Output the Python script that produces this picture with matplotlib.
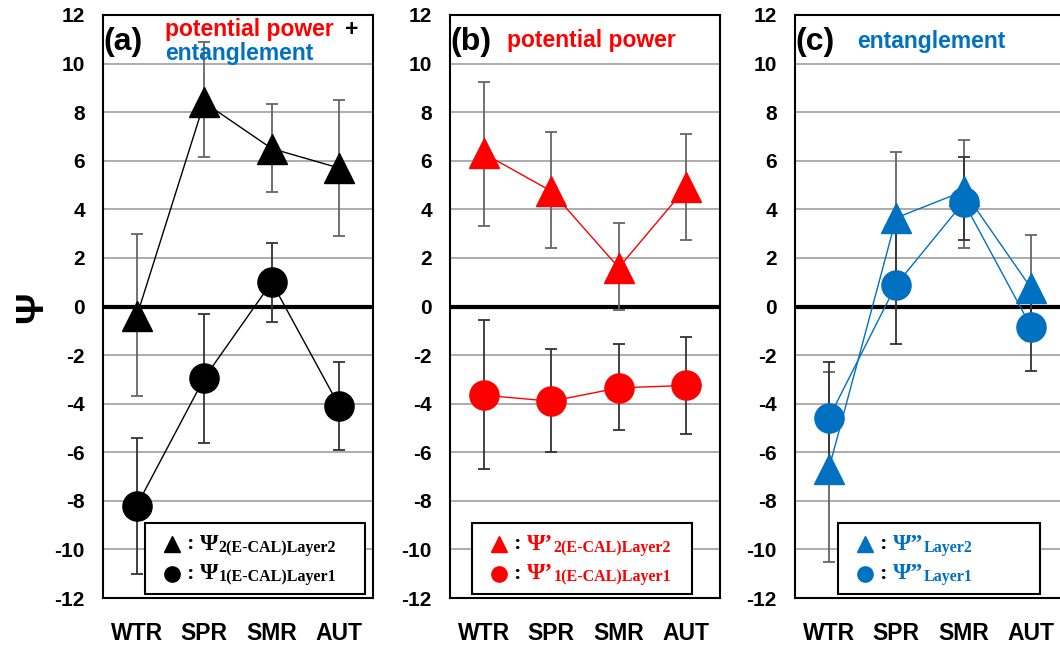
import matplotlib
matplotlib.use("Agg")
import matplotlib.pyplot as plt
from matplotlib.patches import Rectangle
import numpy as np

plt.rcParams['font.family'] = ['Liberation Sans', 'DejaVu Sans']
plt.rcParams['axes.unicode_minus'] = False

seasons = ["WTR", "SPR", "SMR", "AUT"]

# (a) potential power + entanglement
a_l2 = [-0.4, 8.4, 6.5, 5.7]
a_l2_hi = [3.0, 10.9, 8.35, 8.5]
a_l2_lo = [-3.7, 6.15, 4.7, 2.9]
a_l1 = [-8.2, -2.95, 1.0, -4.1]
a_l1_hi = [-5.4, -0.3, 2.6, -2.3]
a_l1_lo = [-11.0, -5.6, -0.65, -5.9]

# (b) potential power
b_l2 = [6.3, 4.75, 1.6, 4.9]
b_l2_hi = [9.25, 7.2, 3.45, 7.1]
b_l2_lo = [3.3, 2.4, -0.15, 2.75]
b_l1 = [-3.65, -3.9, -3.35, -3.25]
b_l1_hi = [-0.55, -1.75, -1.55, -1.25]
b_l1_lo = [-6.7, -6.0, -5.1, -5.25]

# (c) entanglement
c_l2 = [-6.7, 3.65, 4.75, 0.75]
c_l2_hi = [-2.7, 6.35, 6.85, 2.95]
c_l2_lo = [-10.5, 1.0, 2.4, -1.4]
c_l1 = [-4.6, 0.9, 4.3, -0.85]
c_l1_hi = [-2.3, 3.3, 6.15, 0.9]
c_l1_lo = [-6.9, -1.55, 2.75, -2.65]

BLACK, RED, BLUE = "#000000", "#FF0000", "#0070C0"

fig = plt.figure(figsize=(10.6, 6.48), dpi=100)
W, H = 1060, 648
lefts = [103, 450, 795]
axes = [fig.add_axes([l / W, 50 / H, 270 / W, 583 / H]) for l in lefts]

x = np.arange(1, 5)


def draw_panel(ax, l2, l2_hi, l2_lo, l1, l1_hi, l1_lo, color):
    ax.set_xlim(0.5, 4.5)
    ax.set_ylim(-12, 12)
    ax.set_yticks(range(-12, 13, 2))
    ax.set_xticks(x)
    ax.set_xticklabels(seasons)
    ax.tick_params(axis="both", length=0, labelsize=15)
    ax.tick_params(axis="y", pad=13)
    ax.tick_params(axis="x", pad=17, labelsize=16.5)
    for lab in ax.get_xticklabels() + ax.get_yticklabels():
        lab.set_fontweight("bold")
    for sp in ax.spines.values():
        sp.set_linewidth(1.5)
    ax.grid(axis="y", color="#A6A6A6", lw=1.3, zorder=0)
    ax.set_axisbelow(True)
    ax.axhline(0, color="black", lw=3, zorder=2)

    for vals, hi, lo, ecol in [(l2, l2_hi, l2_lo, "#666666"), (l1, l1_hi, l1_lo, "#333333")]:
        v = np.array(vals)
        yerr = [v - np.array(lo), np.array(hi) - v]
        ax.errorbar(x, v, yerr=yerr, fmt="none", ecolor=ecol, elinewidth=1.3,
                    capsize=4.5, capthick=1.3, zorder=3)
    ax.plot(x, l2, color=color, lw=1, marker="^", ms=22, mec=color, zorder=4)
    ax.plot(x, l1, color=color, lw=1, marker="o", ms=21, mec=color, zorder=4)


def draw_key(ax, x0, x1, color, psi, subs):
    ax.add_patch(Rectangle((x0, 0.007), x1 - x0, 0.122, transform=ax.transAxes,
                           fill=True, fc="white", ec="black", lw=1.5, zorder=6))
    for row, (mk, sub) in enumerate(zip(["^", "o"], subs)):
        yy = 0.092 - row * 0.05
        ax.plot([x0 + 0.1], [yy], transform=ax.transAxes, marker=mk, ms=11,
                color=color, zorder=7, clip_on=False)
        t = ax.text(x0 + 0.165, yy, ":", transform=ax.transAxes, ha="center",
                    va="center", fontsize=16, fontweight="bold",
                    family="Liberation Serif", zorder=7)
        t2 = ax.annotate(psi, xy=(1, 0.5), xycoords=t, xytext=(5, 0),
                         textcoords="offset points", ha="left", va="center",
                         fontsize=17, fontweight="bold", color=color,
                         family="Liberation Serif", zorder=7)
        ax.annotate(sub, xy=(1, 0), xycoords=t2, xytext=(0, -1),
                    textcoords="offset points", ha="left", va="bottom",
                    fontsize=11.5, fontweight="bold", color=color,
                    family="Liberation Serif", zorder=7)


draw_panel(axes[0], a_l2, a_l2_hi, a_l2_lo, a_l1, a_l1_hi, a_l1_lo, BLACK)
draw_panel(axes[1], b_l2, b_l2_hi, b_l2_lo, b_l1, b_l1_hi, b_l1_lo, RED)
draw_panel(axes[2], c_l2, c_l2_hi, c_l2_lo, c_l1, c_l1_hi, c_l1_lo, BLUE)

draw_key(axes[0], 0.156, 0.97, BLACK, "Ψ", ["2(E-CAL)Layer2", "1(E-CAL)Layer1"])
draw_key(axes[1], 0.081, 0.896, RED, "Ψ’", ["2(E-CAL)Layer2", "1(E-CAL)Layer1"])
draw_key(axes[2], 0.159, 0.907, BLUE, "Ψ”", ["Layer2", "Layer1"])

# panel headings
for ax, lab in zip(axes, ["(a)", "(b)", "(c)"]):
    ax.text(0.003, 0.953, lab, transform=ax.transAxes, ha="left", va="center",
            fontsize=23, fontweight="bold", zorder=8)
axes[0].text(0.23, 0.975, "potential power", transform=axes[0].transAxes,
             color=RED, fontsize=16.5, fontweight="bold", va="center", zorder=8)
axes[0].text(0.895, 0.975, "+", transform=axes[0].transAxes,
             color=BLACK, fontsize=16.5, fontweight="bold", va="center", zorder=8)
axes[0].text(0.23, 0.934, "entanglement", transform=axes[0].transAxes,
             color=BLUE, fontsize=16.5, fontweight="bold", va="center", zorder=8)
axes[1].text(0.21, 0.957, "potential power", transform=axes[1].transAxes,
             color=RED, fontsize=16.5, fontweight="bold", va="center", zorder=8)
axes[2].text(0.23, 0.955, "entanglement", transform=axes[2].transAxes,
             color=BLUE, fontsize=16.5, fontweight="bold", va="center", zorder=8)

fig.text(32 / W, 1 - 307 / H, "Ψ", rotation=90, ha="center", va="center",
         fontsize=28, fontweight="bold")

fig.savefig("out.png", dpi=100)
